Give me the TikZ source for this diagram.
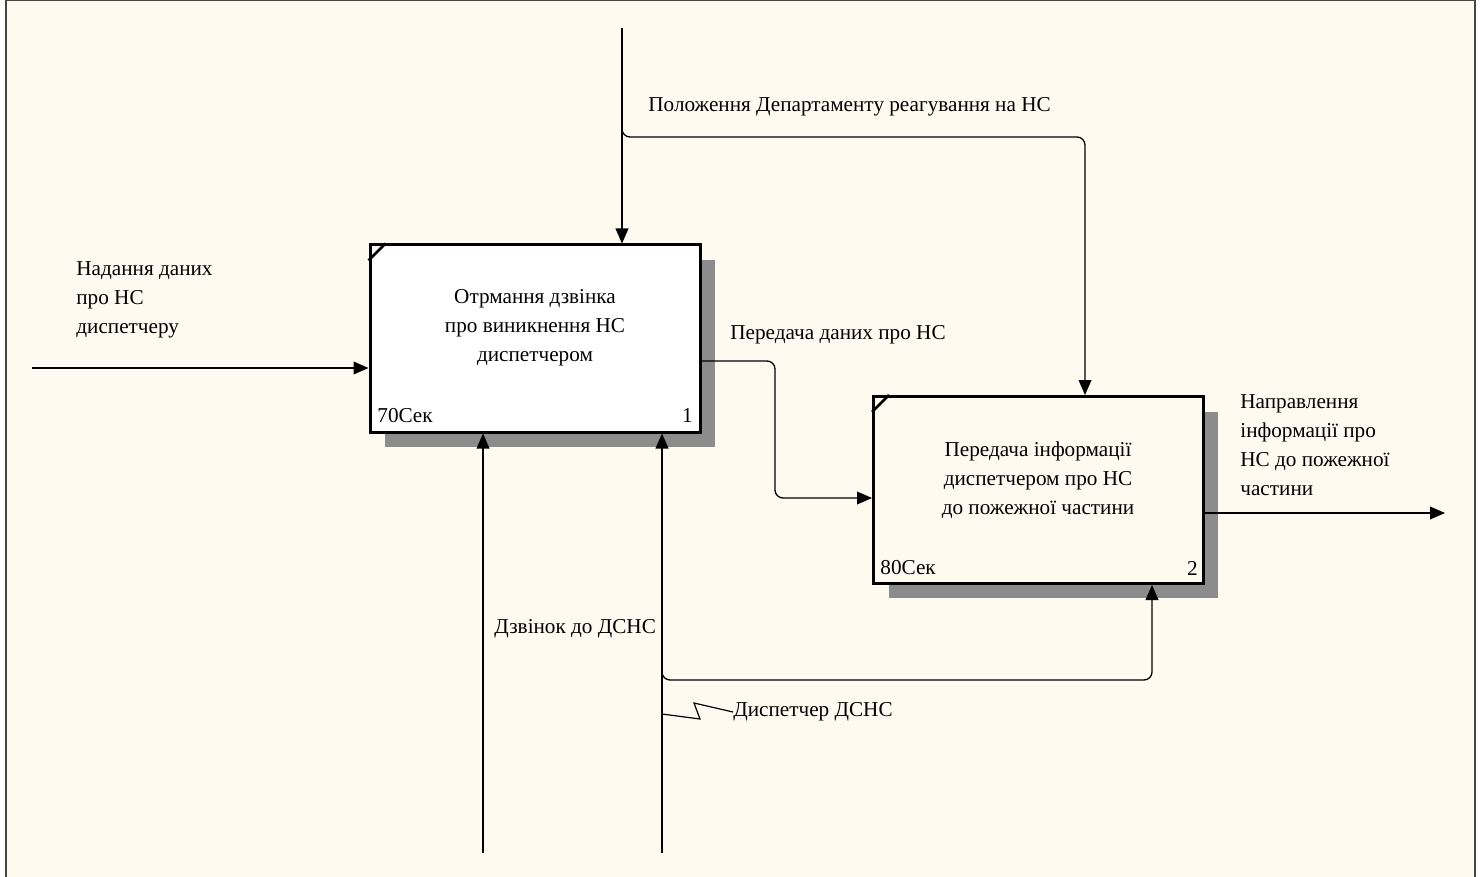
\documentclass[tikz,border=0pt]{standalone}
\usepackage{fontspec}
\setmainfont{Liberation Serif}
\usetikzlibrary{arrows.meta}
\definecolor{bgcream}{RGB}{255,250,239}
\definecolor{framegray}{RGB}{70,70,70}
\begin{document}
\begin{tikzpicture}[x=0.5pt,y=-0.5pt,
  font=\fontsize{10.6}{14.5}\selectfont,
  conn/.style={line width=0.65pt, rounded corners=4pt},
  arr/.style={conn, -{Triangle[length=7.5pt,width=6.4pt]}},
  actbox/.style={draw, line width=1.5pt, minimum width=165pt, minimum height=93.5pt, inner sep=0pt},
  shadowfill/.style={fill=black!45, draw=none},
  lbl/.style={inner sep=0pt, anchor=west, align=left},
  boxtxt/.style={inner sep=0pt, align=center}
]
% background and frame
\useasboundingbox (0,0) rectangle (1483,877);
\fill[white] (0,0) rectangle (1483,877);
\fill[bgcream] (6,0) rectangle (1475,877);
\draw[framegray, line width=0.8pt] (6,877) -- (6,0.5) -- (1475,0.5) -- (1475,877);

% shadows
\fill[shadowfill] (385,260) rectangle (715,447);
\fill[shadowfill] (889,412) rectangle (1218,598);

% boxes
\node[actbox, fill=white] (b1) at (535,338.5) {};
\node[actbox, fill=bgcream] (b2) at (1038.5,490) {};
\draw[line width=1.4pt] ([yshift=-8.5pt]b1.north west) -- ([xshift=8.5pt]b1.north west);
\draw[line width=1.4pt] ([yshift=-8.5pt]b2.north west) -- ([xshift=8.5pt]b2.north west);

\node[boxtxt] (t1) at (535,328) {Отрмання дзвінка\\про виникнення НС\\диспетчером};
\node[boxtxt] (t2) at (1038,480) {Передача інформації\\диспетчером про НС\\до пожежної частини};
\node[lbl] (c1) at (377,416) {70Сек};
\node[lbl, anchor=east] (n1) at (693,416) {1};
\node[lbl] (c2) at (880,568) {80Сек};
\node[lbl, anchor=east] (n2) at (1198,568) {2};

% coordinates
\coordinate (ctop) at (622,28);
\coordinate (cin) at (32,368);
\coordinate (cout) at (1445,513);
\coordinate (m1) at (483,853);
\coordinate (m2) at (662,853);

% control arrow
\draw[arr] (ctop) -- (ctop |- b1.north);
\draw[arr] (622,128) -- (622,137) -- (1085,137) -- (1085,397 |- b2.north);
\node[lbl] (lctl) at (648,107) {Положення Департаменту реагування на НС};

% input
\draw[arr] (cin) -- (cin -| b1.west);
\node[lbl] (lin) at (76,300) {Надання даних\\про НС\\диспетчеру};

% box1 -> box2
\draw[arr] (b1.east |- 0,361) -- (775,361) -- (775,498) -- (b2.west |- 0,498);
\node[lbl] (lmid) at (730,335) {Передача даних про НС};

% output
\draw[arr] (b2.east |- cout) -- (cout);
\node[lbl] (lout) at (1240,445) {Направлення\\інформації про\\НС до пожежної\\частини};

% mechanisms
\draw[arr] (m1) -- (m1 |- b1.south);
\draw[arr] (m2) -- (m2 |- b1.south);
\node[lbl] (lm1) at (494,629) {Дзвінок до ДСНС};
\draw[arr] (662,672) -- (662,680) -- (1152,680) -- (1152,583 |- b2.south);
\node[lbl] (lm2) at (733,712) {Диспетчер ДСНС};
\draw[line width=0.6pt] (662,714) -- (700,719) -- (694,703) -- (lm2.west);
\end{tikzpicture}
\end{document}
